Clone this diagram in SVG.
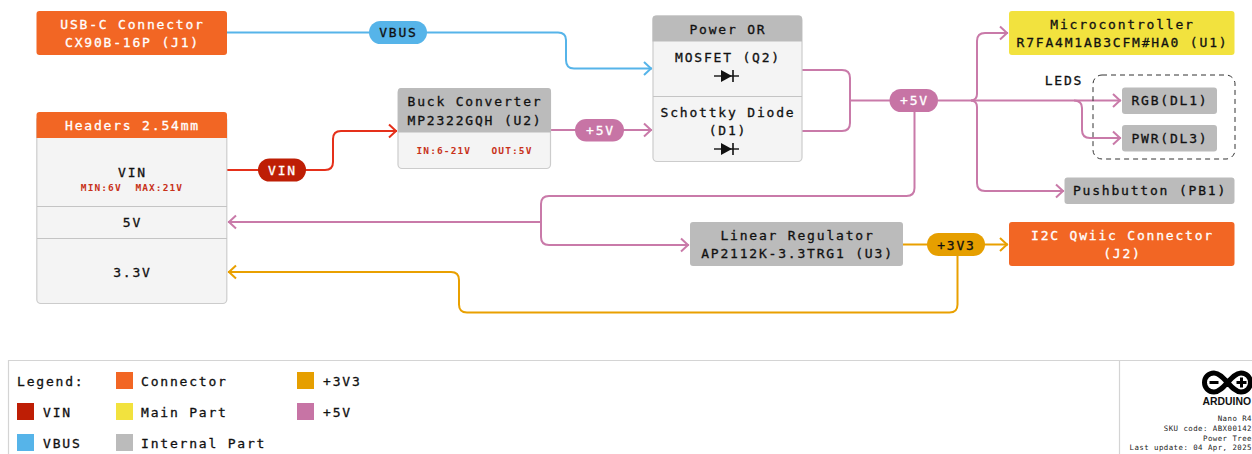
<svg xmlns="http://www.w3.org/2000/svg" width="1252" height="454" viewBox="0 0 1252 454">
<style>
text{font-family:"DejaVu Sans Mono","Liberation Mono",monospace;font-size:13px;letter-spacing:1.8px;fill:#111;stroke:#111;stroke-width:.3px;text-anchor:middle;white-space:pre}
.w{fill:#fff;stroke:#fff}
.l{text-anchor:start}
.s{font-size:9.5px;font-weight:bold;letter-spacing:1.1px;fill:#c8321a;stroke:none}
.f{font-size:7.4px;letter-spacing:.45px;text-anchor:end;fill:#222;stroke:none}
.o{fill:#f26624}.y{fill:#f2e23e}.g{fill:#bbb}
.b{fill:#f4f4f4;stroke:#ccc;stroke-width:1.2}
.d{stroke:#c4c4c4;stroke-width:1.2;fill:none}
.c{fill:none;stroke-width:2}
.vb{stroke:#56b4e9}.vi{stroke:#e5301a}.p5{stroke:#c97aa9}.p3{stroke:#e9a000}
</style>
<defs>
<marker id="ab" markerUnits="userSpaceOnUse" markerWidth="12" markerHeight="18" refX="9" refY="8" orient="auto" overflow="visible"><path d="M1,1.500 L8,8 L1,14.500" fill="none" stroke="#56b4e9" stroke-width="2"/></marker>
<marker id="ar" markerUnits="userSpaceOnUse" markerWidth="12" markerHeight="18" refX="9" refY="8" orient="auto" overflow="visible"><path d="M1,1.500 L8,8 L1,14.500" fill="none" stroke="#e5301a" stroke-width="2"/></marker>
<marker id="ap" markerUnits="userSpaceOnUse" markerWidth="12" markerHeight="18" refX="9" refY="8" orient="auto" overflow="visible"><path d="M1,1.500 L8,8 L1,14.500" fill="none" stroke="#c97aa9" stroke-width="2"/></marker>
<marker id="ay" markerUnits="userSpaceOnUse" markerWidth="12" markerHeight="18" refX="9" refY="8" orient="auto" overflow="visible"><path d="M1,1.500 L8,8 L1,14.500" fill="none" stroke="#e9a000" stroke-width="2"/></marker>
<g id="diode"><path d="M-12,0H13" stroke="#111" stroke-width="1.4" fill="none"/><path d="M-5,-6L6,0L-5,6Z" fill="#111"/><path d="M7,-6V6" stroke="#111" stroke-width="1.6"/></g>
</defs>

<g id="connectors">
<path class="c vb" marker-end="url(#ab)" d="M227,32.500H558Q566,32.500 566,40V60Q566,68.500 574,68.500H652"/>
<path class="c vi" marker-end="url(#ar)" d="M227,170H325Q333,170 333,162V139Q333,131 341,131H397"/>
<path class="c p5" marker-end="url(#ap)" d="M551,130H652"/>
<path class="c p5" d="M802,70H842Q850,70 850,78V123Q850,131 842,131H802M850,100.500H890"/>
<path class="c p5" marker-end="url(#ap)" d="M938,100.500H1121"/>
<path class="c p5" marker-end="url(#ap)" d="M971,100.500Q977,100 977,94V41Q977,33 985,33H1008"/>
<path class="c p5" marker-end="url(#ap)" d="M971,100.500Q977,101 977,107V183Q977,191 985,191H1064"/>
<path class="c p5" marker-end="url(#ap)" d="M1074,100.500Q1082,100.500 1082,108V130Q1082,138 1090,138H1121"/>
<path class="c p5" marker-end="url(#ap)" d="M914.500,112V188Q914.500,196 906.500,196H549Q541,196 541,204V237Q541,245 549,245H689"/>
<path class="c p5" marker-end="url(#ap)" d="M541,222H228"/>
<path class="c p3" marker-end="url(#ay)" d="M903,244.500H1008"/>
<path class="c p3" marker-end="url(#ay)" d="M957.500,256V304.500Q957.500,312.500 949.500,312.500H467Q459,312.500 459,304.500V280Q459,272 451,272H228"/>
</g>

<g id="usbc"><rect class="o" x="36.500" y="11" width="190.500" height="44" rx="3"/><text class="w" x="132.500" y="29">USB-C Connector</text><text class="w" x="132.500" y="47">CX90B-16P (J1)</text></g>

<g id="headers">
<rect class="b" x="36.800" y="116" width="190" height="187.500" rx="4"/>
<path class="d" d="M37,206.500H227M37,238.500H227"/>
<path class="o" d="M39.500,112H224Q227,112 227,115V138H36.500V115Q36.500,112 39.500,112Z"/>
<text class="w" x="132.500" y="130">Headers 2.54mm</text>
<text x="132.500" y="177">VIN</text>
<text class="s" x="132" y="191">MIN:6V  MAX:21V</text>
<text x="132.500" y="227">5V</text>
<text x="132.500" y="277">3.3V</text>
</g>

<g id="buck">
<rect class="b" x="398" y="88.500" width="152.500" height="80" rx="4"/>
<path class="g" d="M401,88H548Q551,88 551,91V132.500H398V91Q398,88 401,88Z"/>
<text x="475" y="106">Buck Converter</text>
<text x="475" y="125">MP2322GQH (U2)</text>
<text class="s" x="474.500" y="154">IN:6-21V   OUT:5V</text>
</g>

<g id="power-or">
<rect class="b" x="653" y="16" width="149" height="145.500" rx="4"/>
<path class="d" d="M653,96.500H802"/>
<path class="g" d="M656,15.500H799Q802,15.500 802,18.500V41.500H652.500V18.500Q652.500,15.500 656,15.500Z"/>
<text x="728" y="34">Power OR</text>
<text x="728" y="62">MOSFET (Q2)</text>
<use href="#diode" x="726" y="76"/>
<text x="728" y="117">Schottky Diode</text>
<text x="728" y="135">(D1)</text>
<use href="#diode" x="726" y="149"/>
</g>

<g id="linreg"><rect class="g" x="690" y="222" width="213" height="44" rx="3"/><text x="797.500" y="240">Linear Regulator</text><text x="797.500" y="258">AP2112K-3.3TRG1 (U3)</text></g>
<g id="mcu"><rect class="y" x="1009" y="11" width="225.500" height="44" rx="3"/><text x="1122.500" y="29">Microcontroller</text><text x="1122.500" y="47">R7FA4M1AB3CFM#HA0 (U1)</text></g>
<g id="i2c"><rect class="o" x="1009" y="222" width="225.500" height="44" rx="3"/><text class="w" x="1122.500" y="240">I2C Qwiic Connector</text><text class="w" x="1122.500" y="258">(J2)</text></g>

<g id="leds-group"><rect x="1093" y="75" width="142" height="84" rx="9" fill="none" stroke="#333" stroke-dasharray="5 4" stroke-width="1"/><text x="1064" y="85">LEDS</text></g>
<g id="rgb"><rect class="g" x="1122" y="87.500" width="95" height="26.500" rx="3"/><text x="1170" y="105">RGB(DL1)</text></g>
<g id="pwr"><rect class="g" x="1122" y="125" width="95" height="26.500" rx="3"/><text x="1170" y="143">PWR(DL3)</text></g>
<g id="pushbutton"><rect class="g" x="1064.500" y="177.500" width="170" height="26.500" rx="3"/><text x="1150" y="195">Pushbutton (PB1)</text></g>

<g id="pill-vbus"><rect x="369" y="21" width="58" height="23" rx="11.500" fill="#56b4e9"/><text x="398.500" y="37">VBUS</text></g>
<g id="pill-vin"><rect x="258" y="158.500" width="48" height="23" rx="11.500" fill="#be1e05"/><text class="w" x="282.500" y="175">VIN</text></g>
<g id="pill-5v-a"><rect x="575" y="119" width="49" height="22.500" rx="11.200" fill="#c774a5"/><text class="w" x="600.500" y="135">+5V</text></g>
<g id="pill-5v-b"><rect x="889.500" y="89" width="48.500" height="23" rx="11.500" fill="#c774a5"/><text class="w" x="914.500" y="105">+5V</text></g>
<g id="pill-3v3"><rect x="927" y="233" width="58" height="23" rx="11.500" fill="#e69f00"/><text x="956.500" y="249.500">+3V3</text></g>

<g id="legend">
<path d="M1252,360.500H8.500V454M1119.500,360.500V454" fill="none" stroke="#d4d4d4" stroke-width="1.200"/>
<text class="l" x="17" y="385.500">Legend:</text>
<rect class="o" x="116" y="372" width="17" height="17"/><text class="l" x="141" y="385.500">Connector</text>
<rect x="297" y="372" width="17" height="17" fill="#e69f00"/><text class="l" x="323" y="385.500">+3V3</text>
<rect x="17" y="403" width="17" height="17" fill="#be1e05"/><text class="l" x="43" y="416.500">VIN</text>
<rect class="y" x="116" y="403" width="17" height="17"/><text class="l" x="141" y="416.500">Main Part</text>
<rect x="297" y="403" width="17" height="17" fill="#c774a5"/><text class="l" x="323" y="416.500">+5V</text>
<rect x="17" y="434" width="17" height="17" fill="#56b4e9"/><text class="l" x="43" y="447.500">VBUS</text>
<rect class="g" x="116" y="434" width="17" height="17"/><text class="l" x="141" y="447.500">Internal Part</text>
</g>

<g id="title-block">
<path fill="none" stroke="#000" stroke-width="5" d="M1214,373C1208.500,373 1204.500,377.300 1204.500,382.500C1204.500,387.700 1208.500,392 1214,392C1224,392 1231,373 1241,373C1246.500,373 1250.500,377.300 1250.500,382.500C1250.500,387.700 1246.500,392 1241,392C1231,392 1224,373 1214,373Z"/>
<path d="M1209.500,381H1218.500V384H1209.500ZM1236.500,381H1240V377.500H1243V381H1246.500V384H1243V387.500H1240V384H1236.500Z" fill="#000"/>
<text x="1202.500" y="405" style="font-family:'Liberation Sans',sans-serif;font-weight:bold;font-size:10.400px;letter-spacing:0;text-anchor:start;stroke:none">ARDUINO</text>
<text class="f" x="1252" y="421">Nano R4</text>
<text class="f" x="1252" y="431">SKU code: ABX00142</text>
<text class="f" x="1252" y="440.500">Power Tree</text>
<text class="f" x="1252" y="450">Last update: 04 Apr, 2025</text>
</g>
</svg>
